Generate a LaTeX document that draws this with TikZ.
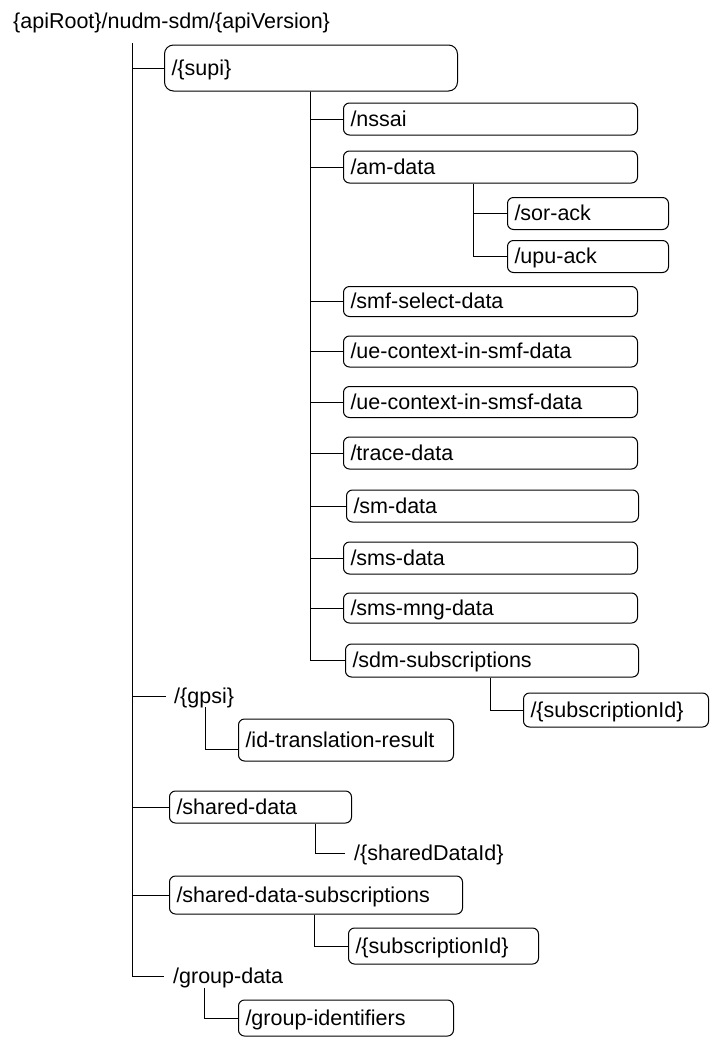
\documentclass[tikz,border=0pt]{standalone}
\usepackage{fontspec}
\setmainfont{Liberation Sans}
\usetikzlibrary{calc}
\begin{document}
\begin{tikzpicture}[x=1pt,y=-1pt,
  every node/.style={font=\fontsize{21.5pt}{24pt}\selectfont},
  box/.style={draw, line width=1pt, rounded corners=6pt, anchor=west, align=left,
    inner xsep=7pt, inner ysep=0pt, text height=16pt, text depth=2pt, minimum height=32pt},
  plain/.style={anchor=west, align=left, inner xsep=8pt, inner ysep=0pt,
    text height=16pt, text depth=2pt},
  link/.style={line width=1pt}]
\useasboundingbox (0,0) rectangle (711,1039);

\node[anchor=base west, inner sep=0pt] (title) at (13,28.5) {\{apiRoot\}/nudm-sdm/\{apiVersion\}};
\coordinate (trunk) at (132,43);

\node[box, text width=279pt, minimum height=46pt, rounded corners=9pt] (supi) at (164,68) {/\{supi\}};

\node[box, text width=280pt] (nssai)   at (343,119)   {/nssai};
\node[box, text width=280pt] (amdata)  at (343,167)   {/am-data};
\node[box, text width=147pt] (sorack)  at (507,213.5) {/sor-ack};
\node[box, text width=147pt] (upuack)  at (507,256.5) {/upu-ack};
\node[box, text width=280pt, minimum height=30pt] (smfsel)  at (343,301.5) {/smf-select-data};
\node[box, text width=280pt, minimum height=31pt] (uesmf)   at (343,351.5) {/ue-context-in-smf-data};
\node[box, text width=280pt, minimum height=31pt] (uesmsf)  at (343,402)   {/ue-context-in-smsf-data};
\node[box, text width=280pt] (trace)   at (343,453)   {/trace-data};
\node[box, text width=278pt] (sm)      at (346,506)   {/sm-data};
\node[box, text width=280pt] (sms)     at (343,558)   {/sms-data};
\node[box, text width=280pt, minimum height=30pt] (smsmng)  at (343,608)   {/sms-mng-data};
\node[box, text width=279pt, minimum height=33pt] (sdmsubs) at (345,660.5) {/sdm-subscriptions};
\node[box, text width=171pt, minimum height=34pt] (sdmsubid) at (523,710) {/\{subscriptionId\}};

\node[plain] (gpsi) at (166,696) {/\{gpsi\}};
\node[box, text width=201pt, minimum height=42pt] (idtr) at (238,740) {/id-translation-result};

\node[box, text width=168pt] (shared) at (169,807) {/shared-data};
\node[plain, inner xsep=9pt] (sdid) at (345,853) {/\{sharedDataId\}};

\node[box, text width=279pt, minimum height=38pt] (shsubs) at (169,895) {/shared-data-subscriptions};
\node[box, text width=176pt, minimum height=36pt] (shsubid) at (348,946) {/\{subscriptionId\}};

\node[plain, inner xsep=9pt] (groupdata) at (164,976) {/group-data};
\node[box, text width=201pt, minimum height=36pt] (groupids) at (238,1018) {/group-identifiers};

% trunk
\draw[link] (trunk) |- (supi.west);
\draw[link] (trunk) |- (gpsi.west);
\draw[link] (trunk) |- (shared.west);
\draw[link] (trunk) |- (shsubs.west);
\draw[link] (trunk) |- (groupdata.west);

% supi children
\coordinate (sv) at ($(supi.south west)+(146,0)$);
\foreach \c in {nssai,amdata,smfsel,uesmf,uesmsf,trace,sm,sms,smsmng,sdmsubs}
  \draw[link] (sv) |- (\c.west);

% am-data children
\coordinate (av) at ($(amdata.south west)+(130,0)$);
\draw[link] (av) |- (sorack.west);
\draw[link] (av) |- (upuack.west);

% sdm-subscriptions child
\draw[link] ($(sdmsubs.south west)+(145,0)$) |- (sdmsubid.west);

% gpsi child
\draw[link] ($(gpsi.west)+(39,11)$) |- ($(idtr.west)+(0,9)$);

% shared-data child
\draw[link] ($(shared.south west)+(146,0)$) |- (sdid.west);

% shared-data-subscriptions child
\draw[link] ($(shsubs.south west)+(145,0)$) |- (shsubid.west);

% group-data child
\draw[link] ($(groupdata.west)+(40,12)$) |- (groupids.west);
\end{tikzpicture}
\end{document}
